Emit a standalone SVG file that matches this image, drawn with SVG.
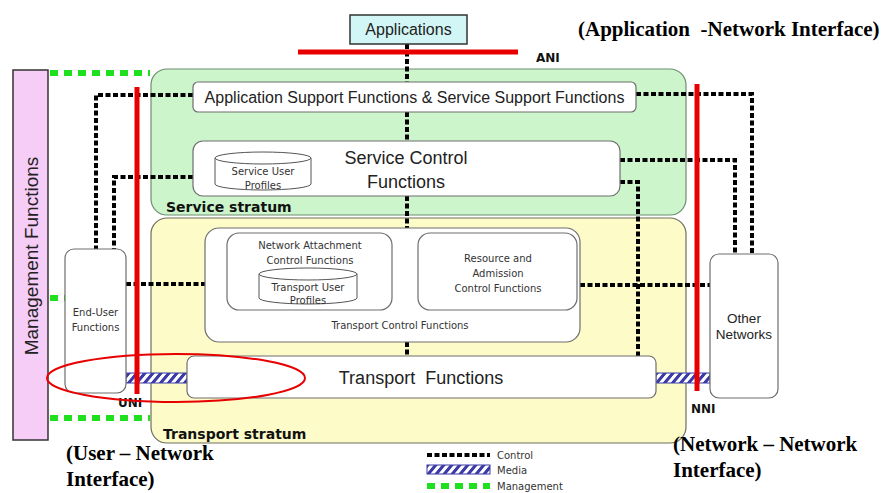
<svg xmlns="http://www.w3.org/2000/svg" width="887" height="493" viewBox="0 0 887 493">
  <defs>
    <pattern id="hatch" width="8" height="10" patternUnits="userSpaceOnUse" patternTransform="skewX(-40)">
      <rect width="8" height="10" fill="#ffffff"/>
      <rect width="4" height="10" fill="#3a3aa8"/>
    </pattern>
    <style>
      .box { fill: #ffffff; stroke: #6e6e6e; stroke-width: 1.2; }
      .ctl { fill: none; stroke: #000000; stroke-width: 4; stroke-dasharray: 5 2.5; }
      .mgt { fill: none; stroke: #1ee01e; stroke-width: 6; stroke-dasharray: 8 6; }
      .iface { stroke: #e80000; stroke-width: 5; }
      .media { fill: url(#hatch); stroke: #3a3aa8; stroke-width: 1; }
      .sans { font-family: "Liberation Sans", Arial, sans-serif; fill: #222222; white-space: pre; }
      .small { font-family: "DejaVu Sans", "Liberation Sans", sans-serif; font-size: 10px; fill: #333333; }
      .strat { font-family: "DejaVu Sans", sans-serif; font-weight: bold; font-size: 14px; fill: #111111; }
      .ilabel { font-family: "DejaVu Sans", sans-serif; font-weight: bold; font-size: 12px; fill: #111111; }
      .note { font-family: "Liberation Serif", "Times New Roman", serif; font-weight: bold; font-size: 21px; fill: #000000; white-space: pre; }
    </style>
  </defs>

  <rect width="887" height="493" fill="#ffffff"/>

  <!-- strata -->
  <g id="service-stratum">
    <rect x="151" y="69" width="535" height="146" rx="16" fill="#ccf5cc" stroke="#6e8e6e" stroke-width="1.2"/>
    <text class="strat" x="166" y="212">Service stratum</text>
  </g>
  <g id="transport-stratum">
    <rect x="151" y="218" width="535" height="225" rx="16" fill="#fdfbc8" stroke="#6e6e5e" stroke-width="1.2"/>
    <text class="strat" x="163" y="439">Transport stratum</text>
  </g>

  <!-- connectors -->
  <g id="connectors">
    <!-- control -->
    <path class="ctl" d="M407 44 V82"/>
    <path class="ctl" d="M407 112 V141"/>
    <path class="ctl" d="M407 196 V228"/>
    <path class="ctl" d="M407 342 V356"/>
    <path class="ctl" d="M193 95 H96 V249"/>
    <path class="ctl" d="M193 177 H114 V249"/>
    <path class="ctl" d="M126 284 H205"/>
    <path class="ctl" d="M636 94 H752 V254"/>
    <path class="ctl" d="M620 160 H735 V254"/>
    <path class="ctl" d="M620 182 H638 V356"/>
    <path class="ctl" d="M580 285 H710"/>
    <path class="ctl" d="M392 270 H418"/>
    <!-- management -->
    <path class="mgt" d="M50 73 H150"/>
    <path class="mgt" d="M50 298 H66"/>
    <path class="mgt" d="M50 418 H150"/>
    <!-- media -->
    <rect class="media" x="126" y="373" width="61" height="10"/>
    <rect class="media" x="656" y="373" width="54" height="10"/>
  </g>

  <!-- interfaces -->
  <g id="ani">
    <line class="iface" x1="298" y1="52" x2="518" y2="52" stroke-width="6"/>
    <text class="ilabel" x="536" y="62" font-size="14">ANI</text>
  </g>
  <g id="uni">
    <line class="iface" x1="137" y1="87" x2="137" y2="394"/>
    <text class="ilabel" x="118" y="407">UNI</text>
  </g>
  <g id="nni">
    <line class="iface" x1="697" y1="84" x2="697" y2="391"/>
    <text class="ilabel" x="691" y="413">NNI</text>
  </g>

  <!-- nodes -->
  <g id="applications">
    <rect x="350" y="15" width="117" height="29" fill="#d2f6f6" stroke="#333333" stroke-width="1.5"/>
    <text class="sans" x="408.5" y="35" font-size="16" text-anchor="middle">Applications</text>
  </g>

  <g id="management-functions">
    <rect x="13" y="70" width="35" height="370" fill="#f6cdf6" stroke="#333333" stroke-width="1.5"/>
    <text class="sans" transform="translate(38 256) rotate(-90)" font-size="19" text-anchor="middle" fill="#333366">Management Functions</text>
  </g>

  <g id="app-support">
    <rect class="box" x="193" y="82" width="443" height="30" rx="5"/>
    <text class="sans" x="414.5" y="103" font-size="16" text-anchor="middle">Application Support Functions &amp; Service Support Functions</text>
  </g>

  <g id="service-control">
    <rect class="box" x="193" y="141" width="427" height="55" rx="10"/>
    <path d="M215 158 V184 A48 6 0 0 0 311 184 V158" fill="#ffffff" stroke="#555555" stroke-width="1"/>
    <ellipse cx="263" cy="158" rx="48" ry="6" fill="#ffffff" stroke="#555555" stroke-width="1"/>
    <text class="small" x="263" y="175" text-anchor="middle">Service User</text>
    <text class="small" x="263" y="189" text-anchor="middle">Profiles</text>
    <text class="sans" x="406" y="164" font-size="18" text-anchor="middle">Service Control</text>
    <text class="sans" x="406" y="188" font-size="18" text-anchor="middle">Functions</text>
  </g>

  <g id="transport-control">
    <rect class="box" x="205" y="228" width="375" height="114" rx="14"/>
    <text class="small" x="400" y="329" text-anchor="middle">Transport Control Functions</text>
  </g>

  <g id="network-attachment">
    <rect class="box" x="227" y="233" width="165" height="77" rx="12"/>
    <text class="small" x="310" y="249" text-anchor="middle">Network Attachment</text>
    <text class="small" x="310" y="264" text-anchor="middle">Control Functions</text>
    <path d="M259 274 V298 A49 6 0 0 0 357 298 V274" fill="#ffffff" stroke="#555555" stroke-width="1"/>
    <ellipse cx="308" cy="274" rx="49" ry="6" fill="#ffffff" stroke="#555555" stroke-width="1"/>
    <text class="small" x="308" y="291" text-anchor="middle">Transport User</text>
    <text class="small" x="308" y="304" text-anchor="middle">Profiles</text>
  </g>

  <g id="resource-admission">
    <rect class="box" x="418" y="233" width="159" height="77" rx="12"/>
    <text class="small" x="498" y="262" text-anchor="middle">Resource and</text>
    <text class="small" x="498" y="277" text-anchor="middle">Admission</text>
    <text class="small" x="498" y="292" text-anchor="middle">Control Functions</text>
  </g>

  <g id="transport-functions">
    <rect class="box" x="187" y="356" width="469" height="42" rx="7"/>
    <text class="sans" x="421" y="384" font-size="18" text-anchor="middle">Transport  Functions</text>
  </g>

  <g id="end-user-functions">
    <rect class="box" x="65" y="249" width="61" height="144" rx="9"/>
    <text class="small" x="95.5" y="316" text-anchor="middle">End-User</text>
    <text class="small" x="95.5" y="331" text-anchor="middle">Functions</text>
  </g>

  <g id="other-networks">
    <rect class="box" x="710" y="254" width="68" height="144" rx="9"/>
    <text class="sans" x="744" y="323" font-size="13.5" text-anchor="middle">Other</text>
    <text class="sans" x="744" y="339" font-size="13.5" text-anchor="middle">Networks</text>
  </g>

  <!-- highlight around the user-network interface -->
  <ellipse cx="176" cy="378" rx="129" ry="24" fill="none" stroke="#e80000" stroke-width="2"/>

  <!-- legend -->
  <g id="legend">
    <line class="ctl" x1="427" y1="455" x2="490" y2="455"/>
    <rect class="media" x="427" y="465" width="63" height="9"/>
    <line class="mgt" x1="427" y1="486" x2="490" y2="486"/>
    <text class="small" x="497" y="459" font-size="10">Control</text>
    <text class="small" x="497" y="474" font-size="10">Media</text>
    <text class="small" x="497" y="490" font-size="10">Management</text>
  </g>

  <!-- interface notes -->
  <text class="note" x="578" y="36">(Application  -Network Interface)</text>
  <text class="note" x="66" y="460">(User – Network</text>
  <text class="note" x="66" y="486">Interface)</text>
  <text class="note" x="673" y="451">(Network – Network</text>
  <text class="note" x="673" y="477">Interface)</text>
</svg>
